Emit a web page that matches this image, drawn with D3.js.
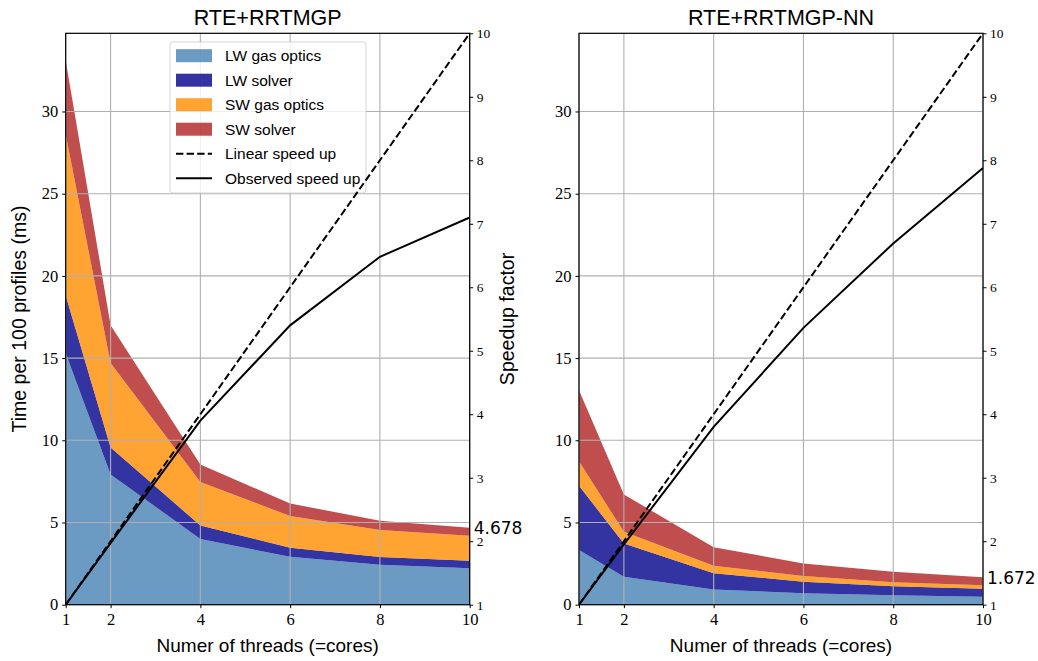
<!DOCTYPE html>
<html>
<head>
<meta charset="utf-8">
<script src="https://cdn.jsdelivr.net/npm/d3@7"></script>
<style>
  body { margin: 0; background: #fff; }
  svg { display: block; }
</style>
</head>
<body>
<svg id="chart" width="1038" height="661"></svg>
<script>
// Thread counts (= cores) along the x axis
const threads = [1, 2, 4, 6, 8, 10];
const seriesNames = ["LW gas optics", "LW solver", "SW gas optics", "SW solver"];
const seriesColors = ["steelblue", "darkblue", "darkorange", "firebrick"];

// RTE+RRTMGP: time per 100 profiles (ms) for each component
const rrtmgpLwGas    = [15.3, 7.92, 4.00, 2.91, 2.43, 2.21];
const rrtmgpLwSolver = [3.50, 1.64, 0.82, 0.55, 0.47, 0.46];
const rrtmgpSwGas    = [9.80, 5.14, 2.65, 1.93, 1.64, 1.52];
const rrtmgpSwSolver = [4.50, 2.30, 1.05, 0.77, 0.56, 0.488];
const rrtmgpSpeedup  = [1.00, 1.97, 3.90, 5.40, 6.48, 7.10];
const rrtmgpTotal10  = 4.678;

// RTE+RRTMGP-NN: time per 100 profiles (ms) for each component
const nnLwGas    = [3.32, 1.70, 0.93, 0.69, 0.57, 0.49];
const nnLwSolver = [3.91, 2.03, 0.98, 0.71, 0.55, 0.48];
const nnSwGas    = [1.49, 0.70, 0.46, 0.34, 0.24, 0.21];
const nnSwSolver = [4.32, 2.27, 1.13, 0.77, 0.64, 0.492];
const nnSpeedup  = [1.00, 1.95, 3.80, 5.36, 6.69, 7.88];
const nnTotal10  = 1.672;

// Ideal scaling
const linearSpeedup = [1, 2, 4, 6, 8, 10];

const xTicks = [1, 2, 4, 6, 8, 10];
const yTicks = [0, 5, 10, 15, 20, 25, 30];
const speedTicks = [1, 2, 3, 4, 5, 6, 7, 8, 9, 10];
const titles = ["RTE+RRTMGP", "RTE+RRTMGP-NN"];

const svg = d3.select("#chart");

const plotTop = 33.3, plotBottom = 604.7;
const panels = [
  { title: titles[0], x0: 65.7, x1: 469.7,
    comps: [rrtmgpLwGas, rrtmgpLwSolver, rrtmgpSwGas, rrtmgpSwSolver],
    speedup: rrtmgpSpeedup, total10: rrtmgpTotal10, legend: true,
    yLabel: "Time per 100 profiles (ms)", y2Label: "Speedup factor" },
  { title: titles[1], x0: 579, x1: 983,
    comps: [nnLwGas, nnLwSolver, nnSwGas, nnSwSolver],
    speedup: nnSpeedup, total10: nnTotal10, legend: false,
    yLabel: null, y2Label: null }
];

// Shared y range: largest stacked total plus a 5 % margin
const rows = p => threads.map((t, i) => {
  const r = { t };
  seriesNames.forEach((n, k) => r[n] = p.comps[k][i]);
  return r;
});
const maxTotal = d3.max(panels, p => d3.max(rows(p), r => d3.sum(seriesNames, n => r[n])));
const yScale = d3.scaleLinear().domain([0, maxTotal * 1.05]).range([plotBottom, plotTop]);
const sScale = d3.scaleLinear().domain([1, 10]).range([plotBottom, plotTop]);

const serif = "'Liberation Serif', 'Times New Roman', serif";
const sans = "'Liberation Sans', Arial, sans-serif";

panels.forEach((p, pi) => {
  const xScale = d3.scaleLinear().domain([1, 10]).range([p.x0, p.x1]);
  const g = svg.append("g");
  const clipId = "clip" + pi;
  svg.append("defs").append("clipPath").attr("id", clipId)
    .append("rect").attr("x", p.x0).attr("y", plotTop)
    .attr("width", p.x1 - p.x0).attr("height", plotBottom - plotTop);

  // stacked areas
  const stacked = d3.stack().keys(seriesNames)(rows(p));
  const area = d3.area()
    .x(d => xScale(d.data.t))
    .y0(d => yScale(d[0]))
    .y1(d => yScale(d[1]));
  g.append("g").attr("clip-path", `url(#${clipId})`)
    .selectAll("path").data(stacked).join("path")
    .attr("d", area)
    .attr("fill", (d, i) => seriesColors[i])
    .attr("fill-opacity", 0.8);

  // grid lines (above the fills)
  const grid = g.append("g").attr("stroke", "#b0b0b0").attr("stroke-width", 1.1);
  grid.selectAll("line.v").data(xTicks).join("line").attr("class", "v")
    .attr("x1", d => xScale(d)).attr("x2", d => xScale(d))
    .attr("y1", plotTop).attr("y2", plotBottom);
  grid.selectAll("line.h").data(yTicks).join("line").attr("class", "h")
    .attr("x1", p.x0).attr("x2", p.x1)
    .attr("y1", d => yScale(d)).attr("y2", d => yScale(d));

  // legend
  if (p.legend) {
    const lg = g.append("g");
    const lx = 170, ly = 42;
    lg.append("rect").attr("x", lx).attr("y", ly).attr("width", 196).attr("height", 151)
      .attr("rx", 3).attr("fill", "#fff").attr("fill-opacity", 0.8)
      .attr("stroke", "#cccccc").attr("stroke-opacity", 0.8);
    const rowY = i => 55.7 + i * 24.5;
    seriesNames.forEach((n, i) => {
      lg.append("rect").attr("x", 176).attr("y", rowY(i) - 6.5).attr("width", 36).attr("height", 13)
        .attr("fill", seriesColors[i]).attr("fill-opacity", 0.8);
    });
    const lineItems = [["Linear speed up", "7.4,3.2"], ["Observed speed up", null]];
    lineItems.forEach(([, dash], j) => {
      lg.append("line").attr("x1", 176).attr("x2", 212)
        .attr("y1", rowY(4 + j)).attr("y2", rowY(4 + j))
        .attr("stroke", "#000").attr("stroke-width", 2)
        .attr("stroke-dasharray", dash);
    });
    const labels = seriesNames.concat(lineItems.map(d => d[0]));
    lg.selectAll("text").data(labels).join("text")
      .attr("x", 225).attr("y", (d, i) => rowY(i) + 5.5)
      .attr("font-family", sans).attr("font-size", 15.5).attr("fill", "#000")
      .text(d => d);
  }

  // speedup lines on the secondary axis
  const line = d3.line().x((d, i) => xScale(threads[i])).y(d => sScale(d));
  const lines = g.append("g").attr("clip-path", `url(#${clipId})`);
  lines.append("path").attr("d", line(linearSpeedup)).attr("fill", "none")
    .attr("stroke", "#000").attr("stroke-width", 2).attr("stroke-dasharray", "7.4,3.2");
  lines.append("path").attr("d", line(p.speedup)).attr("fill", "none")
    .attr("stroke", "#000").attr("stroke-width", 2);

  // axes
  const axL = d3.axisLeft(yScale).tickValues(yTicks).tickSize(3.5).tickPadding(4).tickFormat(d3.format("d"));
  const axB = d3.axisBottom(xScale).tickValues(xTicks).tickSize(3.5).tickPadding(5).tickFormat(d3.format("d"));
  const axR = d3.axisRight(sScale).tickValues(speedTicks).tickSize(3.5).tickPadding(3.5).tickFormat(d3.format("d"));
  const gl = g.append("g").attr("transform", `translate(${p.x0},0)`).call(axL);
  const gb = g.append("g").attr("transform", `translate(0,${plotBottom})`).call(axB);
  const gr = g.append("g").attr("transform", `translate(${p.x1},0)`).call(axR);
  [gl, gb, gr].forEach(a => {
    a.select(".domain").remove();
    a.selectAll(".tick line").attr("stroke", "#000").attr("stroke-width", 1);
    a.selectAll("text").attr("font-family", serif).attr("fill", "#000");
  });
  gl.selectAll("text").attr("font-size", 16.5);
  gb.selectAll("text").attr("font-size", 16.5);
  gr.selectAll("text").attr("font-size", 13.5);

  // frame
  g.append("rect").attr("x", p.x0).attr("y", plotTop)
    .attr("width", p.x1 - p.x0).attr("height", plotBottom - plotTop)
    .attr("fill", "none").attr("stroke", "#000").attr("stroke-width", 1.2);

  // total time at 10 threads
  g.append("text").attr("x", xScale(10) + 4).attr("y", yScale(p.total10) + 6.3)
    .attr("font-family", "'DejaVu Sans', sans-serif").attr("font-size", 17)
    .attr("fill", "#000").text(p.total10);

  // titles and axis labels
  const cx = (p.x0 + p.x1) / 2, cy = (plotTop + plotBottom) / 2;
  g.append("text").attr("x", cx).attr("y", 25).attr("text-anchor", "middle")
    .attr("font-family", sans).attr("font-size", 21.5).attr("fill", "#000").text(p.title);
  g.append("text").attr("x", cx).attr("y", 651.5).attr("text-anchor", "middle")
    .attr("font-family", sans).attr("font-size", 19).attr("fill", "#000")
    .text("Numer of threads (=cores)");
  if (p.yLabel) {
    g.append("text").attr("transform", `translate(26,${cy}) rotate(-90)`)
      .attr("text-anchor", "middle").attr("font-family", sans).attr("font-size", 19.5)
      .attr("fill", "#000").text(p.yLabel);
  }
  if (p.y2Label) {
    g.append("text").attr("transform", `translate(514,${cy}) rotate(-90)`)
      .attr("text-anchor", "middle").attr("font-family", sans).attr("font-size", 19.5)
      .attr("fill", "#000").text(p.y2Label);
  }
});
</script>
</body>
</html>
